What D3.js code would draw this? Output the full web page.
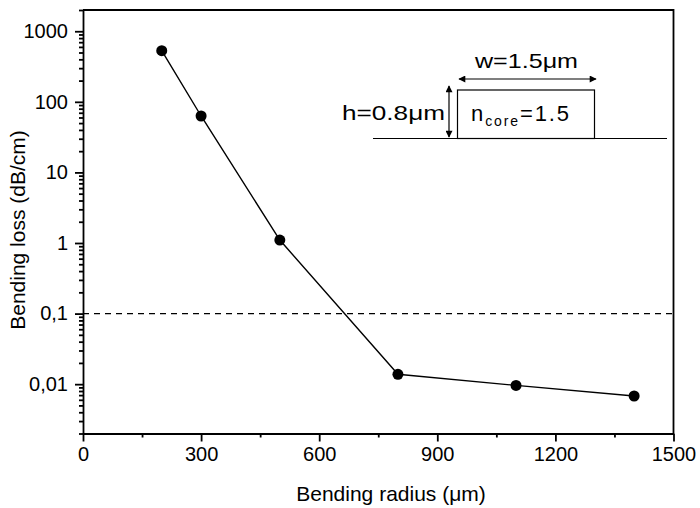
<!DOCTYPE html>
<html>
<head>
<meta charset="utf-8">
<script src="https://cdn.jsdelivr.net/npm/d3@7"></script>
<style>
  body { margin: 0; background: #fff; }
  svg { font-family: 'Liberation Sans', Arial, sans-serif; }
  .axis path, .axis line { stroke: #000; stroke-width: 1.8; }
  .axis text { font-size: 20px; fill: #000; font-family: 'Liberation Sans', Arial, sans-serif; }
</style>
</head>
<body>
<svg id="root" width="700" height="508"></svg>
<script>
const d3 = window.d3

// bending radius (um) vs bending loss (dB/cm)
const radius = [200, 300, 500, 800, 1100, 1400]
const loss = [530, 63, 1.1, 0.0138, 0.0096, 0.0068]
const xTicks = [0, 300, 600, 900, 1200, 1500]
const xMinor = [150, 450, 750, 1050, 1350]
const yTicks = [1000, 100, 10, 1, 0.1, 0.01]
const yLabels = ['1000', '100', '10', '1', '0,1', '0,01']
const threshold = 0.1

const margin = { left: 83, right: 26.5, top: 10, bottom: 74.5 }
const width = 700
const height = 508

const svg = d3.select('#root')

const xScale = d3.scaleLinear()
  .domain([0, 1500])
  .range([margin.left, width - margin.right])

const yScale = d3.scaleLog()
  .domain([0.002, 2000])
  .range([height - margin.bottom, margin.top])

// minor log ticks 2..9 per decade
const yMinor = []
for (let e = -3; e <= 3; e++) {
  for (let k = 2; k <= 9; k++) {
    const v = k * Math.pow(10, e)
    if (v >= 0.002 && v <= 2000) yMinor.push(v)
  }
}

const x0 = xScale.range()[0]
const x1 = xScale.range()[1]
const y0 = yScale.range()[0]
const y1 = yScale.range()[1]

// frame (top + right)
svg.append('path')
  .attr('d', `M${x0},${y1}H${x1}V${y0}`)
  .attr('fill', 'none')
  .attr('stroke', '#000')
  .attr('stroke-width', 1.8)

// x axis
svg.append('g')
  .attr('class', 'axis')
  .attr('transform', `translate(0,${y0})`)
  .call(d3.axisBottom(xScale).tickValues(xMinor).tickSize(4).tickFormat(''))
  .call(g => g.select('.domain').remove())

svg.append('g')
  .attr('class', 'axis')
  .attr('transform', `translate(0,${y0})`)
  .call(d3.axisBottom(xScale).tickValues(xTicks).tickSize(8).tickSizeOuter(0).tickPadding(5)
    .tickFormat(d => String(d)))

// y axis
svg.append('g')
  .attr('class', 'axis')
  .attr('transform', `translate(${x0},0)`)
  .call(d3.axisLeft(yScale).tickValues(yMinor).tickSize(4).tickFormat(''))
  .call(g => g.select('.domain').remove())

svg.append('g')
  .attr('class', 'axis')
  .attr('transform', `translate(${x0},0)`)
  .call(d3.axisLeft(yScale).tickValues(yTicks).tickSize(8).tickSizeOuter(0).tickPadding(7)
    .tickFormat((d, i) => yLabels[i]))

// dashed threshold
svg.append('line')
  .attr('x1', x0)
  .attr('x2', x1)
  .attr('y1', yScale(threshold))
  .attr('y2', yScale(threshold))
  .attr('stroke', '#000')
  .attr('stroke-width', 1.3)
  .attr('stroke-dasharray', '6,5')

// data line + points
const data = radius.map((r, i) => ({ r, l: loss[i] }))

svg.append('path')
  .datum(data)
  .attr('fill', 'none')
  .attr('stroke', '#000')
  .attr('stroke-width', 1.4)
  .attr('d', d3.line().x(d => xScale(d.r)).y(d => yScale(d.l)))

svg.selectAll('circle.pt')
  .data(data)
  .enter()
  .append('circle')
  .attr('class', 'pt')
  .attr('cx', d => xScale(d.r))
  .attr('cy', d => yScale(d.l))
  .attr('r', 5.5)
  .attr('fill', '#000')

// axis titles
svg.append('text')
  .attr('x', 391)
  .attr('y', 501)
  .attr('text-anchor', 'middle')
  .attr('font-size', 21)
  .text('Bending radius (μm)')

svg.append('text')
  .attr('transform', `translate(25,230) rotate(-90)`)
  .attr('text-anchor', 'middle')
  .attr('font-size', 21)
  .text('Bending loss (dB/cm)')

// inset: waveguide sketch
const inset = svg.append('g').attr('class', 'inset')

const defs = svg.append('defs')
defs.append('marker')
  .attr('id', 'arr')
  .attr('viewBox', '0 0 10 10')
  .attr('refX', 9)
  .attr('refY', 5)
  .attr('markerWidth', 9)
  .attr('markerHeight', 7)
  .attr('markerUnits', 'userSpaceOnUse')
  .attr('orient', 'auto-start-reverse')
  .append('path')
  .attr('d', 'M0,0L10,5L0,10z')
  .attr('fill', '#000')

inset.append('line')
  .attr('x1', 373).attr('x2', 667).attr('y1', 138.5).attr('y2', 138.5)
  .attr('stroke', '#000').attr('stroke-width', 1.2)

inset.append('rect')
  .attr('x', 457.5).attr('y', 90).attr('width', 137).attr('height', 48.5)
  .attr('fill', 'none').attr('stroke', '#000').attr('stroke-width', 1.2)

inset.append('line')
  .attr('x1', 459).attr('x2', 596).attr('y1', 79).attr('y2', 79)
  .attr('stroke', '#000').attr('stroke-width', 1.2)
  .attr('marker-start', 'url(#arr)').attr('marker-end', 'url(#arr)')

inset.append('line')
  .attr('x1', 449).attr('x2', 449).attr('y1', 86).attr('y2', 137)
  .attr('stroke', '#000').attr('stroke-width', 1.2)
  .attr('marker-start', 'url(#arr)').attr('marker-end', 'url(#arr)')

inset.append('text')
  .attr('x', 475).attr('y', 68)
  .attr('font-size', 21)
  .attr('textLength', 103)
  .attr('lengthAdjust', 'spacingAndGlyphs')
  .text('w=1.5μm')

inset.append('text')
  .attr('x', 342).attr('y', 120)
  .attr('font-size', 21)
  .attr('textLength', 103)
  .attr('lengthAdjust', 'spacingAndGlyphs')
  .text('h=0.8μm')

const nText = inset.append('text')
  .attr('x', 471).attr('y', 121)
  .attr('font-size', 22)
  .attr('textLength', 98)
  .attr('lengthAdjust', 'spacing')
nText.append('tspan').text('n')
nText.append('tspan').attr('font-size', 14).attr('dy', 5).text('core')
nText.append('tspan').attr('dy', -5).text('=1.5')
</script>
</body>
</html>
